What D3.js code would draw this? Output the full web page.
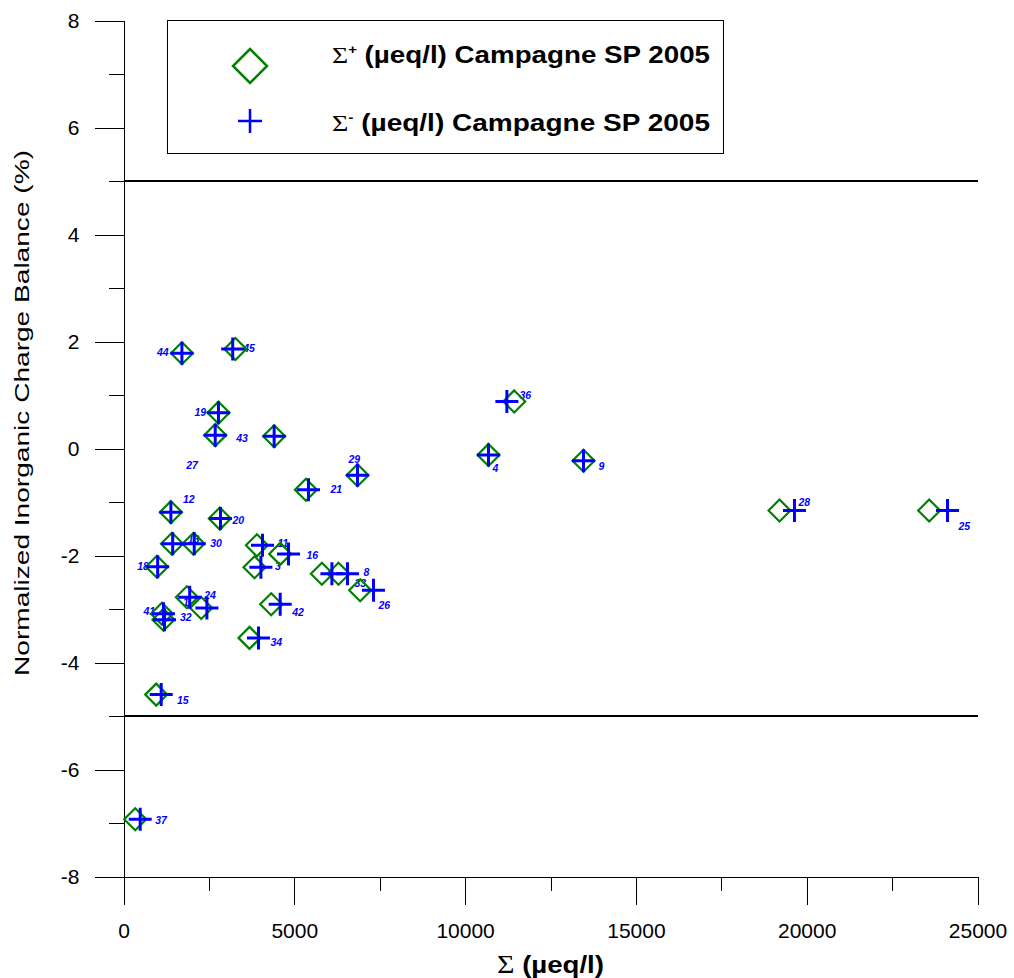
<!DOCTYPE html>
<html><head><meta charset="utf-8">
<script src="https://cdn.jsdelivr.net/npm/d3@7"></script>
<style>body{margin:0;background:#fff} svg{display:block}</style>
</head><body><svg id="chart" width="1014" height="978"></svg>
<script>
// ---- data ----
const sampleIds = ["44","45","19","43","27","12","20","13","30","18","21","11","16","3","33","8","26","42","24","1","41","32","34","15","29","36","4","9","28","25","37"];
const cationSum = [1710,3276,2780,2685,4410,1387,2820,1420,2050,980,5340,3905,4587,3835,5808,6294,6929,4324,1856,2275,1125,1170,3688,957,6850,11437,10685,13466,19204,23585,343];
const anionSum  = [1710,3197,2780,2685,4410,1387,2840,1440,2070,1000,5415,4069,4830,4022,6101,6557,7318,4587,1938,2441,1170,1200,3952,1104,6850,11223,10685,13466,19642,24122,489];
const balance   = [1.78,1.86,0.67,0.25,0.23,-1.19,-1.31,-1.78,-1.78,-2.21,-0.77,-1.81,-1.97,-2.22,-2.34,-2.34,-2.65,-2.91,-2.78,-2.98,-3.09,-3.20,-3.54,-4.60,-0.50,0.88,-0.12,-0.23,-1.16,-1.16,-6.93];
const xTicks = [0,5000,10000,15000,20000,25000];
const xMinorTicks = [2500,7500,12500,17500,22500];
const yTicks = [-8,-6,-4,-2,0,2,4,6,8];
const yMinorTicks = [-7,-5,-3,-1,1,3,5,7];
const limitLines = [5,-5];
const legendText = ["(µeq/l) Campagne SP 2005","(µeq/l) Campagne SP 2005"];
const legendSup = ["+","-"];
const xTitle = "(µeq/l)";
const yTitle = "Normalized Inorganic Charge Balance (%)";

// label offsets (px) relative to the anion (+) marker, per sample
const labelOffsets = {
  "44":[-25,2.5],"45":[10.5,3],"19":[-24,3.5],"43":[21,7],"27":[-88,33],"12":[12,-9],"20":[12,5],
  "13":[15,-1],"30":[16,3],"18":[-20.5,3.5],"21":[22,3],"11":[15,2],"16":[18,5],"3":[14,2.5],
  "33":[22.6,13.5],"8":[16,2],"26":[5,19],"42":[12,12],"24":[14.5,2],"1":[-24,-1.6],"41":[-20,1],
  "32":[15.5,1],"34":[12,8],"15":[15.7,9],"29":[-9,-12.4],"36":[12.6,-2.7],"4":[4,16.7],"9":[15,9],
  "28":[4,-5],"25":[11,19.7],"37":[15,5]
};

const samples = sampleIds.map((id,i)=>({id, cat:cationSum[i], an:anionSum[i], bal:balance[i]}));

const svg = d3.select("#chart");
const x = d3.scaleLinear().domain([0,25000]).range([123.5, 977.5]);
const y = d3.scaleLinear().domain([-8,8]).range([876.5, 20.5]);
const FONT = "'Liberation Sans', Arial, sans-serif";
const SERIF = "'Liberation Serif','Times New Roman',serif";
const fmt = d => String(d);

// limit lines
svg.append("g").selectAll("line").data(limitLines).join("line")
  .attr("x1", x(0)).attr("x2", x(25000))
  .attr("y1", d=>y(d)).attr("y2", d=>y(d))
  .attr("stroke","#000").attr("stroke-width",1.2).attr("shape-rendering","crispEdges");

// axes
function styleAxis(g){
  g.selectAll("line").attr("stroke","#000").attr("shape-rendering","crispEdges");
  g.select(".domain").attr("stroke","#000").attr("shape-rendering","crispEdges");
  g.selectAll("text").attr("fill","#000").attr("font-family",FONT).attr("font-size",21);
}
const gy = svg.append("g").attr("transform",`translate(${x(0)},0)`)
  .call(d3.axisLeft(y).tickValues(yTicks).tickSize(29).tickSizeOuter(0).tickPadding(15).tickFormat(fmt));
styleAxis(gy);
const gyMinor = svg.append("g").attr("transform",`translate(${x(0)},0)`)
  .call(d3.axisLeft(y).tickValues(yMinorTicks).tickSize(14.5).tickSizeOuter(0).tickFormat(""));
styleAxis(gyMinor); gyMinor.select(".domain").remove();

const gx = svg.append("g").attr("transform",`translate(0,${y(-8)})`)
  .call(d3.axisBottom(x).tickValues(xTicks).tickSize(28).tickSizeOuter(0).tickPadding(19).tickFormat(fmt));
styleAxis(gx);
const gxMinor = svg.append("g").attr("transform",`translate(0,${y(-8)})`)
  .call(d3.axisBottom(x).tickValues(xMinorTicks).tickSize(14).tickSizeOuter(0).tickFormat(""));
styleAxis(gxMinor); gxMinor.select(".domain").remove();

// axis titles
const xt = svg.append("text").attr("x",497).attr("y",973).attr("text-anchor","start")
  .attr("font-family",FONT).attr("font-size",23).attr("font-weight","bold").attr("fill","#000")
  .attr("textLength",107).attr("lengthAdjust","spacingAndGlyphs");
xt.append("tspan").attr("font-family",SERIF).attr("font-weight","normal").attr("font-size",25).text("Σ");
xt.append("tspan").text(" " + xTitle);

svg.append("text").attr("transform","translate(29,413) rotate(-90)").attr("text-anchor","middle")
  .attr("font-family",FONT).attr("font-size",21).attr("fill","#000")
  .attr("textLength",526).attr("lengthAdjust","spacingAndGlyphs").text(yTitle);

// markers
const R = 11;
const diamondPath = r => `M0,${-r}L${r},0L0,${r}L${-r},0Z`;
const plusPath = r => `M${-r},0H${r}M0,${-r}V${r}`;

const gLabels = svg.append("g");
const gDiam = svg.append("g");
const gPlus = svg.append("g");

gLabels.selectAll("text").data(samples).join("text")
  .attr("x", d=>x(d.an) + labelOffsets[d.id][0])
  .attr("y", d=>y(d.bal) + labelOffsets[d.id][1])
  .attr("font-family",FONT).attr("font-size",10.5).attr("font-weight","bold").attr("font-style","italic")
  .attr("fill","#0000ff").text(d=>d.id);

gDiam.selectAll("path").data(samples).join("path")
  .attr("transform", d=>`translate(${x(d.cat)},${y(d.bal)})`)
  .attr("d", diamondPath(R)).attr("fill","none").attr("stroke","#008000").attr("stroke-width",2.2);

gPlus.selectAll("path").data(samples).join("path")
  .attr("transform", d=>`translate(${x(d.an)},${y(d.bal)})`)
  .attr("d", plusPath(11.5)).attr("fill","none").attr("stroke","#0000ff").attr("stroke-width",3);

// legend
const lg = svg.append("g");
lg.append("rect").attr("x",167.5).attr("y",20.5).attr("width",556).attr("height",133)
  .attr("fill","#fff").attr("stroke","#000").attr("stroke-width",1);
lg.append("path").attr("transform","translate(250,66)").attr("d",diamondPath(17))
  .attr("fill","none").attr("stroke","#008000").attr("stroke-width",2.5);
lg.append("path").attr("transform","translate(250,121)").attr("d",plusPath(12))
  .attr("fill","none").attr("stroke","#0000ff").attr("stroke-width",2.5);
[63,131].forEach((by,i)=>{
  const t = lg.append("text").attr("x",332).attr("y",by)
    .attr("font-family",FONT).attr("font-size",24).attr("font-weight","bold").attr("fill","#000")
    .attr("textLength",378).attr("lengthAdjust","spacingAndGlyphs");
  t.append("tspan").attr("font-family",SERIF).attr("font-weight","normal").attr("font-size",24).text("Σ");
  t.append("tspan").attr("font-size",13).attr("dy",-9).text(legendSup[i]);
  t.append("tspan").attr("dy",9).text(" " + legendText[i]);
});
</script></body></html>
